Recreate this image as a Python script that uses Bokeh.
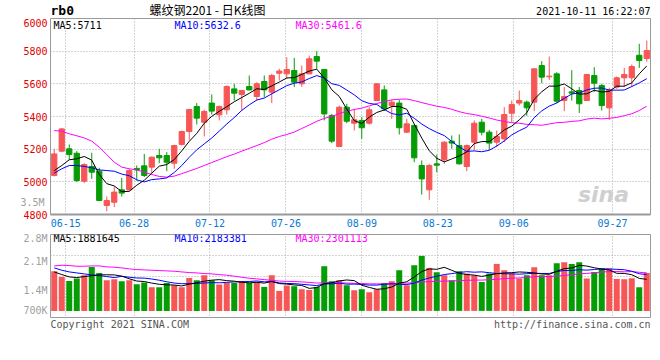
from bokeh.plotting import figure
from bokeh.layouts import column
from bokeh.models import Range1d, FixedTicker, Label, LinearAxis
from bokeh.embed import file_html
from bokeh.resources import INLINE

# ---------------- data ----------------
dates = ["06-10", "06-11", "06-15", "06-16", "06-17", "06-18", "06-21", "06-22", "06-23", "06-24",
         "06-25", "06-28", "06-29", "06-30", "07-01", "07-02", "07-05", "07-06", "07-07", "07-08",
         "07-09", "07-12", "07-13", "07-14", "07-15", "07-16", "07-19", "07-20", "07-21", "07-22",
         "07-23", "07-26", "07-27", "07-28", "07-29", "07-30", "08-02", "08-03", "08-04", "08-05",
         "08-06", "08-09", "08-10", "08-11", "08-12", "08-13", "08-16", "08-17", "08-18", "08-19",
         "08-20", "08-23", "08-24", "08-25", "08-26", "08-27", "08-30", "08-31", "09-01", "09-02",
         "09-03", "09-06", "09-07", "09-08", "09-09", "09-10", "09-13", "09-14", "09-15", "09-16",
         "09-17", "09-22", "09-23", "09-24", "09-27", "09-28", "09-29", "09-30", "10-08", "10-11"]

opens = [5039, 5188, 5202, 5175, 5004, 5094, 5065, 4855, 4875, 4951,
         4951, 5082, 5098, 5090, 5161, 5161, 5114, 5229, 5308, 5461,
         5365, 5482, 5410, 5441, 5569, 5535, 5584, 5522, 5614, 5549,
         5665, 5661, 5682, 5600, 5661, 5767, 5688, 5406, 5216, 5457,
         5359, 5376, 5359, 5498, 5563, 5467, 5482, 5304, 5345, 5100,
         4951, 5110, 5135, 5249, 5222, 5094, 5243, 5365, 5304, 5243,
         5263, 5420, 5482, 5488, 5488, 5712, 5643, 5661, 5498, 5551,
         5559, 5498, 5651, 5590, 5453, 5580, 5637, 5637, 5775, 5755]
highs = [5202, 5330, 5229, 5188, 5114, 5178, 5086, 4910, 4971, 5024,
         5080, 5100, 5171, 5155, 5202, 5182, 5227, 5314, 5447, 5482,
         5441, 5535, 5467, 5590, 5600, 5563, 5651, 5610, 5651, 5661,
         5692, 5763, 5759, 5712, 5773, 5800, 5688, 5416, 5467, 5478,
         5447, 5396, 5457, 5604, 5590, 5502, 5502, 5386, 5351, 5131,
         5110, 5167, 5249, 5284, 5290, 5229, 5376, 5386, 5318, 5314,
         5457, 5498, 5559, 5498, 5692, 5739, 5767, 5671, 5580, 5684,
         5580, 5661, 5702, 5600, 5576, 5645, 5698, 5718, 5845, 5865]
lows = [5033, 5182, 5135, 4998, 4992, 5018, 4882, 4820, 4845, 4910,
        4947, 5008, 5029, 5053, 5114, 5065, 5080, 5222, 5257, 5351,
        5278, 5412, 5376, 5412, 5498, 5437, 5559, 5498, 5518, 5482,
        5620, 5631, 5580, 5582, 5661, 5692, 5376, 5237, 5216, 5359,
        5314, 5263, 5351, 5494, 5433, 5386, 5290, 5298, 5120, 4922,
        4890, 5059, 5110, 5202, 5106, 5065, 5192, 5284, 5196, 5212,
        5243, 5365, 5467, 5404, 5433, 5604, 5624, 5482, 5433, 5498,
        5422, 5494, 5549, 5437, 5379, 5569, 5580, 5580, 5698, 5735]
closes = [5171, 5324, 5167, 5008, 5106, 5059, 4886, 4886, 4937, 4931,
          5069, 5073, 5039, 5151, 5147, 5120, 5222, 5308, 5443, 5390,
          5431, 5433, 5461, 5584, 5543, 5559, 5563, 5600, 5563, 5651,
          5678, 5688, 5610, 5661, 5753, 5739, 5416, 5249, 5457, 5371,
          5380, 5331, 5441, 5600, 5447, 5488, 5331, 5355, 5147, 5018,
          5100, 5102, 5243, 5237, 5110, 5222, 5359, 5304, 5237, 5278,
          5412, 5473, 5498, 5453, 5692, 5641, 5647, 5494, 5522, 5543,
          5478, 5657, 5604, 5467, 5563, 5637, 5657, 5706, 5743, 5804]
volumes = [2375000, 2036000, 1796000, 1936000, 2136000, 2635000, 2275000, 1836000, 1896000, 1776000,
           1836000, 1597000, 1697000, 1417000, 1417000, 1677000, 1537000, 1417000, 1976000, 1836000,
           2136000, 1836000, 1577000, 1677000, 1677000, 1796000, 1677000, 1737000, 1437000, 2136000,
           1198000, 1517000, 1477000, 1297000, 1257000, 1437000, 2675000, 1776000, 1836000, 1537000,
           1238000, 1297000, 1118000, 1297000, 1677000, 1776000, 2435000, 1537000, 2735000, 3293000,
           2575000, 2315000, 2136000, 1836000, 2375000, 2236000, 2136000, 1737000, 2236000, 2814000,
           2435000, 2236000, 1936000, 2136000, 2615000, 2136000, 2136000, 2854000, 2914000, 2814000,
           2914000, 1936000, 2335000, 2535000, 2535000, 1916000, 1896000, 1956000, 1417000, 2275000]

# moving-average values at the start of the window (they use earlier days)
ma5_head = [5069, 5100, 5135, 5141]
ma10_head = [5053, 5080, 5100, 5100, 5094, 5086, 5073, 5069, 5065]
ma30_head = [5314, 5310, 5294, 5282, 5269, 5249, 5212, 5167, 5120, 5090,
             5080, 5073, 5059, 5045, 5033, 5029, 5035, 5050, 5066, 5082,
             5100, 5118, 5136, 5154, 5170, 5188, 5205, 5222, 5240]
vma5_head = [2335000, 2176000, 2036000, 1996000]
vma10_head = [2575000, 2435000, 2335000, 2275000, 2216000, 2156000, 2116000, 2056000, 1996000]
vma30_head = [2695000, 2735000, 2715000, 2675000, 2675000, 2695000, 2695000, 2635000, 2615000, 2575000,
              2515000, 2475000, 2455000, 2435000, 2415000, 2395000, 2375000, 2335000, 2295000, 2275000,
              2236000, 2216000, 2176000, 2136000, 2076000, 2016000, 1956000, 1916000, 1876000]

price_ticks = [4800, 5000, 5200, 5400, 5600, 5800, 6000]
date_tick_labels = ["06-15", "06-28", "07-12", "07-26", "08-09", "08-23", "09-06", "09-27"]
vol_tick_labels = ["3.5M", "2.8M", "2.1M", "1.4M", "700K"]

title_text = "螺纹钢2201 - 日K线图"
symbol_text = "rb0"
time_text = "2021-10-11 16:22:07"
ma_texts = ["MA5:5711", "MA10:5632.6", "MA30:5461.6"]
vma_texts = ["MA5:1881645", "MA10:2183381", "MA30:2301113"]
copyright_text = "Copyright 2021 SINA.COM"
url_text = "http://finance.sina.com.cn"

# ---------------- derived ----------------
N = len(dates)
xs = list(range(N))


def moving_avg(vals, n, head):
    out = list(head)
    for i in range(len(head), len(vals)):
        out.append(sum(vals[i - n + 1:i + 1]) / n)
    return out


ma5 = moving_avg(closes, 5, ma5_head)
ma10 = moving_avg(closes, 10, ma10_head)
ma30 = moving_avg(closes, 30, ma30_head)
vma5 = moving_avg(volumes, 5, vma5_head)
vma10 = moving_avg(volumes, 10, vma10_head)
vma30 = moving_avg(volumes, 30, vma30_head)

RED = "#f65656"
GREEN = "#069c06"
colors = [RED if c >= o else GREEN for o, c in zip(opens, closes)]
body_top = [max(o, c) for o, c in zip(opens, closes)]
body_bot = [min(o, c) for o, c in zip(opens, closes)]

MONO = "DejaVu Sans Mono"
GRID = "#a8a8a8"
FRAME = "#9a9a9a"
AXGRAY = "#a0a0a0"
LEFT = 50
FRAME_W = 600
RIGHT = 1

# Sina places each date gridline at index * N/(N-1) slots from the left edge
tick_pos = [round(dates.index(d) * N / (N - 1) - 0.5, 4) for d in date_tick_labels]


def add_label(fig, x, y, text, color, size="10px", align="left", font=MONO, style="normal",
              units="screen"):
    fig.add_layout(Label(x=x, y=y, x_units=units, y_units=units, text=text,
                         text_color=color, text_font_size=size, text_align=align,
                         text_baseline="middle", text_font=font, text_font_style=style))


def text_strip(height):
    # a text-only strip; its x data units are page pixels (frame aligned with the charts)
    f = figure(frame_width=FRAME_W, frame_height=height,
               x_range=Range1d(LEFT, LEFT + FRAME_W), y_range=Range1d(0, height),
               x_axis_type=None, y_axis_type=None, output_backend="svg", toolbar_location=None,
               min_border_left=LEFT, min_border_right=RIGHT, min_border_top=0, min_border_bottom=0)
    f.grid.visible = False
    f.outline_line_color = None
    return f


def style_grid(fig):
    for g in (fig.xgrid, fig.ygrid):
        g.grid_line_color = GRID
        g.grid_line_dash = "1 2"
        g.grid_line_width = 1


# ---------------- header ----------------
HEADER_H = 18
head = text_strip(HEADER_H)
add_label(head, 50, 8, symbol_text, "#000000", size="13px", style="bold", units="data")
add_label(head, 207, 9, title_text, "#000000", size="12px", align="center",
          font="Noto Sans CJK SC", units="data")
add_label(head, 650, 7, time_text, "#000000", align="right", units="data")

# ---------------- main (price) chart ----------------
p = figure(frame_width=FRAME_W, frame_height=196,
           x_range=Range1d(-0.5, N - 0.5), y_range=Range1d(4800, 6000),
           output_backend="svg", toolbar_location=None,
           min_border_left=LEFT, min_border_right=RIGHT, min_border_top=0,
           min_border_bottom=18)
p.outline_line_color = FRAME
p.outline_line_width = 1

p.xaxis.ticker = FixedTicker(ticks=tick_pos)
p.xaxis.major_label_overrides = {t: lab for t, lab in zip(tick_pos, date_tick_labels)}
p.xaxis.major_label_text_color = "#0a7ad0"
p.xaxis.major_label_text_font = MONO
p.xaxis.major_label_text_font_size = "10px"
p.xaxis.major_label_standoff = 4
p.xaxis.major_tick_out = 0
p.xaxis.major_tick_line_color = None
p.xaxis.minor_tick_line_color = None
p.xaxis.axis_line_color = FRAME
p.xaxis.axis_line_width = 2

yax = p.yaxis[0]
yax.ticker = FixedTicker(ticks=price_ticks)
yax.major_label_text_color = "#e00000"
yax.major_label_text_font = MONO
yax.major_label_text_font_size = "10px"
yax.major_label_standoff = 3
yax.major_tick_out = 0
yax.major_tick_line_color = None
yax.minor_tick_line_color = None
yax.axis_line_color = None

# the grey volume scale label that Sina prints inside the price axis column
VOL_LABEL_IN_PRICE_AXIS = 4875
gax = LinearAxis(ticker=FixedTicker(ticks=[VOL_LABEL_IN_PRICE_AXIS]),
                 major_label_overrides={VOL_LABEL_IN_PRICE_AXIS: vol_tick_labels[0]})
gax.major_label_text_color = AXGRAY
gax.major_label_text_font = MONO
gax.major_label_text_font_size = "10px"
gax.major_label_standoff = -24
gax.major_tick_out = 0
gax.major_tick_in = 0
gax.major_tick_line_color = None
gax.minor_tick_line_color = None
gax.axis_line_color = None
p.add_layout(gax, "left")

p.xgrid.ticker = FixedTicker(ticks=tick_pos)
p.ygrid.ticker = FixedTicker(ticks=price_ticks[1:-1])
style_grid(p)

# watermark
add_label(p, 553, 20, "sina", "#cfcfcf", size="22px", align="center", font="DejaVu Sans",
          style="bold italic")

# candles
p.segment(x0=xs, y0=lows, x1=xs, y1=highs, color=colors, line_width=1)
p.vbar(x=xs, width=0.7, top=body_top, bottom=body_bot, fill_color=colors, line_color=colors,
       line_width=1)

# moving averages
p.line(xs, ma30, color="#ff00ff", line_width=1)
p.line(xs, ma10, color="#0000ff", line_width=1)
p.line(xs, ma5, color="#000000", line_width=1)

ma_colors = ["#000000", "#0000ff", "#ff00ff"]
ma_x = [3, 124, 245]
for t, c, xx in zip(ma_texts, ma_colors, ma_x):
    add_label(p, xx, 189, t, c)

# ---------------- volume chart ----------------
VOL_FRAME_H = 84
vol_lo, vol_hi = -455000, 4575000
v = figure(frame_width=FRAME_W, frame_height=VOL_FRAME_H,
           x_range=p.x_range, y_range=Range1d(vol_lo, vol_hi),
           output_backend="svg", toolbar_location=None,
           min_border_left=LEFT, min_border_right=RIGHT, min_border_top=2,
           min_border_bottom=0)
v.outline_line_color = FRAME
v.outline_line_width = 1
v.xaxis.visible = False

# Sina's grey volume labels sit at these heights (px above the panel's bottom edge)
vol_label_px = [VOL_FRAME_H - 0.5, 57, 28, 8]
vol_label_vals = [round(vol_lo + (vol_hi - vol_lo) * px / VOL_FRAME_H) for px in vol_label_px]
vax = v.yaxis[0]
vax.ticker = FixedTicker(ticks=vol_label_vals)
vax.major_label_overrides = {val: lab for val, lab in zip(vol_label_vals, vol_tick_labels[1:])}
vax.major_label_text_color = AXGRAY
vax.major_label_text_font = MONO
vax.major_label_text_font_size = "10px"
vax.major_label_standoff = 3
vax.major_tick_out = 0
vax.major_tick_line_color = None
vax.minor_tick_line_color = None
vax.axis_line_color = None

v.xgrid.ticker = FixedTicker(ticks=tick_pos)
v.ygrid.ticker = FixedTicker(ticks=[vol_lo + (vol_hi - vol_lo) * q for q in (0.25, 0.5, 0.75)])
style_grid(v)

v.vbar(x=xs, width=0.8, top=volumes, bottom=0, fill_color=colors, line_color=None)
v.line(xs, vma30, color="#ff00ff", line_width=1)
v.line(xs, vma10, color="#0000ff", line_width=1)
v.line(xs, vma5, color="#000000", line_width=1)

for t, c, xx in zip(vma_texts, ma_colors, ma_x):
    add_label(v, xx, 80, t, c)

# ---------------- footer ----------------
FOOT_H = 16
foot = text_strip(FOOT_H)
add_label(foot, 50, 10, copyright_text, "#555555", units="data")
add_label(foot, 650, 10, url_text, "#555555", align="right", units="data")

layout = column(head, p, v, foot, spacing=0)
open("out.html", "w").write(file_html(layout, INLINE))
